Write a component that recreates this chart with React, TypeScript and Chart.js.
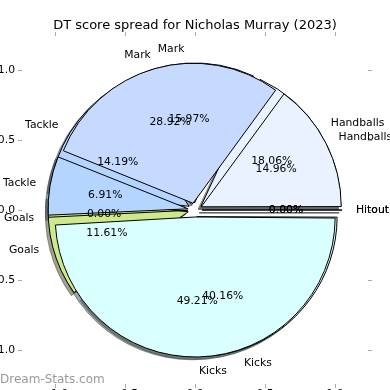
import React, { useEffect, useRef } from 'react';
import { Chart, registerables } from 'chart.js';

Chart.register(...registerables);

// ---- data (matplotlib order: counter-clockwise from east) ----
const TITLE = 'DT score spread for Nicholas Murray (2023)';
const WATERMARK = 'Dream-Stats.com';
const categories = ['Handballs', 'Mark', 'Tackle', 'Goals', 'Kicks', 'Hitout'];
const frontShares = [14.96, 28.92, 6.91, 0.0, 49.21, 0.0]; // pie drawn on top
const backShares = [18.06, 15.97, 14.19, 11.61, 40.16, 0.0]; // pie drawn underneath
const sliceColors = ['#eaf1ff', '#c6d9ff', '#b4d5ff', '#cde98b', '#d9ffff', '#e8e8e8'];
const axisTicks = [-1.0, -0.5, 0.0, 0.5, 1.0];

// ---- geometry / style ----
const R = 140; // pixels per data unit (pie radius 1.0)
const EXPLODE = 7; // 0.05 * R
const SHADOW = 2.8; // 0.02 * R
const FONT = 'DejaVu Sans';
const LABEL_SIZE = 10.8;

const rev = <T,>(a: T[]): T[] => [...a].reverse();

function shadowColor(hex: string): string {
  const n = parseInt(hex.slice(1), 16);
  const r = Math.round(((n >> 16) & 255) * 0.3);
  const g = Math.round(((n >> 8) & 255) * 0.3);
  const b = Math.round((n & 255) * 0.3);
  return `rgba(${r},${g},${b},0.5)`;
}

const fmtTick = (v: any) => Number(v).toFixed(1).replace('-', '\u2212');

function makeScale(position: string, showLabels: boolean, extent: number, lim: number) {
  const horizontal = position === 'top' || position === 'bottom';
  return {
    type: 'linear',
    axis: horizontal ? 'x' : 'y',
    position,
    min: -lim,
    max: lim,
    afterBuildTicks: (s: any) => {
      s.ticks = axisTicks.map((v) => ({ value: v }));
    },
    afterFit: (s: any) => {
      if (horizontal) s.height = extent;
      else s.width = extent;
      s.paddingTop = 0;
      s.paddingBottom = 0;
      s.paddingLeft = 0;
      s.paddingRight = 0;
    },
    border: { display: false },
    grid: {
      drawOnChartArea: false,
      drawTicks: true,
      tickLength: 4,
      color: '#aaaaaa',
      lineWidth: 1,
    },
    ticks: {
      display: showLabels,
      padding: horizontal ? 0 : 3,
      color: '#000',
      font: { family: FONT, size: LABEL_SIZE },
      callback: (v: any) => fmtTick(v),
    },
  };
}

const pieOverlay = {
  id: 'pieOverlay',
  afterDatasetsUpdate(chart: any) {
    chart.data.datasets.forEach((_: any, i: number) => {
      const meta = chart.getDatasetMeta(i);
      meta.data.forEach((arc: any) => {
        const circ = arc.endAngle - arc.startAngle;
        const fix = 1 - Math.sin(Math.min(Math.PI, circ));
        arc.innerRadius = 0;
        arc.outerRadius = R - EXPLODE * fix;
      });
    });
  },
  beforeDatasetsDraw(chart: any) {
    const ctx = chart.ctx;
    ctx.save();
    [1, 0].forEach((di) => {
      const meta = chart.getDatasetMeta(di);
      meta.data.forEach((arc: any, j: number) => {
        const mid = (arc.startAngle + arc.endAngle) / 2;
        const cx = arc.x + Math.cos(mid) * EXPLODE - SHADOW;
        const cy = arc.y + Math.sin(mid) * EXPLODE + SHADOW;
        const col = shadowColor(chart.data.datasets[di].backgroundColor[j]);
        ctx.beginPath();
        ctx.moveTo(cx, cy);
        ctx.arc(cx, cy, R, arc.startAngle, arc.endAngle);
        ctx.closePath();
        ctx.fillStyle = col;
        ctx.strokeStyle = col;
        ctx.lineWidth = 1;
        if (arc.endAngle - arc.startAngle > 0) ctx.fill();
        ctx.stroke();
      });
    });
    ctx.restore();
  },
  afterDatasetsDraw(chart: any) {
    const ctx = chart.ctx;
    ctx.save();
    // zero-size wedges are drawn as a single edge line, like matplotlib
    [1, 0].forEach((di) => {
      const meta = chart.getDatasetMeta(di);
      meta.data.forEach((arc: any) => {
        if (arc.endAngle - arc.startAngle > 0) return;
        const a = arc.startAngle;
        const cx = arc.x + Math.cos(a) * EXPLODE;
        const cy = arc.y + Math.sin(a) * EXPLODE;
        ctx.beginPath();
        ctx.moveTo(cx, cy);
        ctx.lineTo(cx + Math.cos(a) * R, cy + Math.sin(a) * R);
        ctx.strokeStyle = '#000';
        ctx.lineWidth = 1;
        ctx.stroke();
      });
    });
    // labels and percentages
    ctx.font = `${LABEL_SIZE}px ${FONT}`;
    ctx.fillStyle = '#000';
    ctx.textBaseline = 'middle';
    [1, 0].forEach((di) => {
      const ds = chart.data.datasets[di];
      const total = ds.data.reduce((s: number, v: number) => s + v, 0);
      const meta = chart.getDatasetMeta(di);
      meta.data.forEach((arc: any, j: number) => {
        const mid = (arc.startAngle + arc.endAngle) / 2;
        const c = Math.cos(mid);
        const s = Math.sin(mid);
        const cx = arc.x + c * EXPLODE;
        const cy = arc.y + s * EXPLODE;
        const lx = cx + c * R * 1.1;
        const ly = cy + s * R * 1.1;
        ctx.textAlign = lx - arc.x > 0 ? 'left' : 'right';
        ctx.fillText(chart.data.labels[j], lx, ly);
        const px = cx + c * R * 0.6;
        const py = cy + s * R * 0.6;
        ctx.textAlign = 'center';
        ctx.fillText(((ds.data[j] / total) * 100).toFixed(2) + '%', px, py);
      });
    });
    ctx.restore();
  },
  afterDraw(chart: any) {
    const ctx = chart.ctx;
    ctx.save();
    ctx.font = `12px ${FONT}`;
    ctx.fillStyle = '#9a9a9a';
    ctx.textAlign = 'left';
    ctx.textBaseline = 'middle';
    ctx.fillText(WATERMARK, 0, 380);
    ctx.restore();
  },
};

export default function App() {
  const ref = useRef<HTMLCanvasElement | null>(null);

  useEffect(() => {
    if (!ref.current) return;
    const xLim = 173 / R;
    const yLim = 174 / R;
    const chart = new Chart(ref.current, {
      type: 'pie',
      data: {
        labels: rev(categories),
        datasets: [
          {
            data: rev(frontShares),
            backgroundColor: rev(sliceColors),
            borderColor: '#000',
            borderWidth: 1,
            offset: EXPLODE * 4,
            hoverOffset: 0,
          },
          {
            data: rev(backShares),
            backgroundColor: rev(sliceColors),
            borderColor: '#000',
            borderWidth: 1,
            offset: EXPLODE * 4,
            hoverOffset: 0,
          },
        ],
      } as any,
      options: {
        responsive: false,
        animation: false,
        events: [],
        rotation: 90,
        radius: R,
        layout: { padding: 0 },
        plugins: {
          legend: { display: false },
          tooltip: { enabled: false },
          title: {
            display: true,
            text: TITLE,
            color: '#000',
            font: { family: FONT, size: 13, weight: 'normal', lineHeight: 1.2 },
            padding: { top: 18, bottom: 0 },
          },
        },
        scales: {
          x: makeScale('bottom', true, 6, xLim),
          x2: makeScale('top', false, 2.4, xLim),
          y: makeScale('left', true, 22, yLim),
          y2: makeScale('right', false, 22, yLim),
        },
      } as any,
      plugins: [pieOverlay as any],
    });
    return () => chart.destroy();
  }, []);

  return (
    <div
      style={{
        position: 'fixed',
        left: 0,
        top: 0,
        width: 390,
        height: 390,
        overflow: 'hidden',
        background: '#fff',
      }}
    >
      <canvas ref={ref} width={390} height={390} style={{ display: 'block' }} />
    </div>
  );
}
